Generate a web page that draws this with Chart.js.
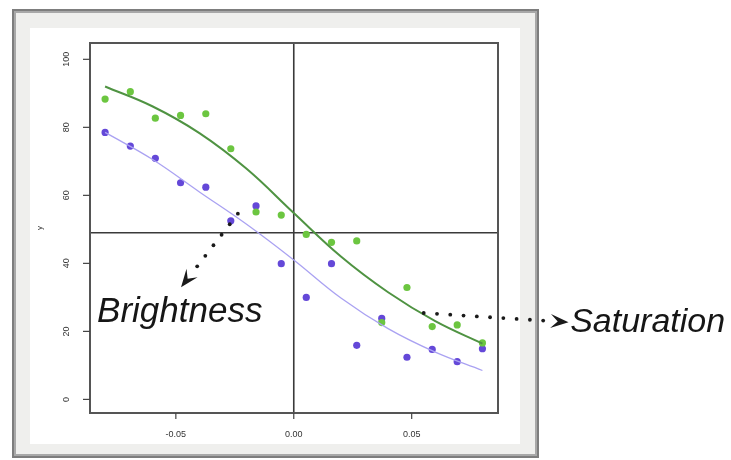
<!DOCTYPE html>
<html>
<head>
<meta charset="utf-8">
<script src="https://cdn.jsdelivr.net/npm/chart.js@4.4.0/dist/chart.umd.min.js"></script>
<style>
  html, body { margin: 0; padding: 0; background: #fff; }
  #wrap { width: 731px; height: 460px; }
</style>
</head>
<body>
<div id="wrap"><canvas id="myChart" width="731" height="460"></canvas></div>
<script>
// sample positions (x) and readings
let xs = [-0.08, -0.0693, -0.0587, -0.048, -0.0373, -0.0267, -0.016, -0.0053, 0.0053, 0.016, 0.0267, 0.0373, 0.048, 0.0587, 0.0693, 0.08]
let satPts = [88.3, 90.5, 82.7, 83.5, 84, 73.7, 55.1, 54.2, 48.5, 46.2, 46.6, 22.6, 32.9, 21.4, 21.9, 16.6]
let brightPts = [78.5, 74.5, 70.9, 63.7, 62.4, 52.5, 56.9, 39.9, 30.0, 39.9, 15.9, 23.8, 12.4, 14.7, 11.1, 14.9]

// fitted curves
let curveX = [-0.08, -0.06, -0.04, -0.02, 0, 0.02, 0.04, 0.06, 0.08]
let satCurve = [92, 86.2, 78.3, 67.8, 54.8, 42, 31.5, 23, 16.4]
let brightCurve = [78.5, 70.6, 61, 51.5, 41, 29.8, 20.8, 13.9, 8.5]

let xTicks = [-0.05, 0, 0.05]
let xTickLabels = ['-0.05', '0.00', '0.05']
let yTicks = [0, 20, 40, 60, 80, 100]
let hLine = 49
let vLine = 0

let toXY = (x, y) => x.map((v, i) => ({ x: v, y: y[i] }))

// frame behind the plot
let framePlugin = {
    id: 'frame',
    beforeDraw(chart) {
        let c = chart.ctx
        c.save()
        c.fillStyle = '#fff'
        c.fillRect(0, 0, chart.width, chart.height)
        c.fillStyle = '#7d7d7d'
        c.fillRect(12, 9, 527, 449)
        c.fillStyle = '#a8a8a8'
        c.fillRect(14, 11, 523, 445)
        c.fillStyle = '#efefed'
        c.fillRect(16, 13, 519, 441)
        c.fillStyle = '#fff'
        c.fillRect(30, 28, 490, 416)
        c.restore()
    },
    beforeDatasetsDraw(chart) {
        let c = chart.ctx
        let a = chart.chartArea
        let xs_ = chart.scales.x
        let ys_ = chart.scales.y
        c.save()
        c.strokeStyle = '#3a3a3a'
        c.lineWidth = 1.6
        let px = xs_.getPixelForValue(vLine)
        let py = ys_.getPixelForValue(hLine)
        c.beginPath()
        c.moveTo(px, a.top); c.lineTo(px, a.bottom)
        c.moveTo(a.left, py); c.lineTo(a.right, py)
        c.stroke()
        c.restore()
    },
    afterDraw(chart) {
        let c = chart.ctx
        let a = chart.chartArea
        let sx = chart.scales.x
        let sy = chart.scales.y
        c.save()
        // box
        c.strokeStyle = '#555'
        c.lineWidth = 2
        c.strokeRect(a.left, a.top, a.right - a.left, a.bottom - a.top)

        // ticks + labels
        c.lineWidth = 1.2
        c.strokeStyle = '#444'
        c.fillStyle = '#333'
        c.font = '9px "Liberation Sans", Arial, sans-serif'
        c.textAlign = 'center'
        c.textBaseline = 'middle'
        xTicks.forEach((t, i) => {
            let p = sx.getPixelForValue(t)
            c.beginPath(); c.moveTo(p, a.bottom); c.lineTo(p, a.bottom + 6); c.stroke()
            c.fillText(xTickLabels[i], p, a.bottom + 22)
        })
        yTicks.forEach(t => {
            let p = sy.getPixelForValue(t)
            c.beginPath(); c.moveTo(a.left, p); c.lineTo(a.left - 7, p); c.stroke()
            c.save()
            c.translate(a.left - 23, p)
            c.rotate(-Math.PI / 2)
            c.fillText(String(t), 0, 0)
            c.restore()
        })
        c.save()
        c.font = '8px "Liberation Sans", Arial, sans-serif'
        c.translate(40, (a.top + a.bottom) / 2)
        c.rotate(-Math.PI / 2)
        c.fillText('y', 0, 0)
        c.restore()

        // annotations
        let pt = (x, y) => [sx.getPixelForValue(x), sy.getPixelForValue(y)]
        drawDottedArrow(c, pt(-0.0237, 54.6), pt(-0.0478, 33.0))
        drawDottedArrow(c, pt(0.0551, 25.4), pt(0.1165, 22.7))

        c.fillStyle = '#161616'
        c.textAlign = 'left'
        c.textBaseline = 'alphabetic'
        c.font = 'italic 35px "Liberation Sans", Arial, sans-serif'
        let b = pt(-0.0834, 22.8)
        c.fillText('Brightness', b[0], b[1])
        c.font = 'italic 34px "Liberation Sans", Arial, sans-serif'
        let s = pt(0.1172, 19.9)
        c.fillText('Saturation', s[0], s[1])
        c.restore()
    }
}

function drawDottedArrow(c, from, to) {
    let dx = to[0] - from[0], dy = to[1] - from[1]
    let len = Math.sqrt(dx * dx + dy * dy)
    let ux = dx / len, uy = dy / len
    let head = 18
    c.fillStyle = '#1a1a1a'
    for (let d = 0; d <= len - head - 2; d += 13.3) {
        c.beginPath()
        c.arc(from[0] + ux * d, from[1] + uy * d, 1.9, 0, Math.PI * 2)
        c.fill()
    }
    let ang = Math.atan2(dy, dx)
    c.save()
    c.translate(to[0], to[1])
    c.rotate(ang)
    c.beginPath()
    c.moveTo(0, 0)
    c.lineTo(-head, -7)
    c.lineTo(-head * 0.6, 0)
    c.lineTo(-head, 7)
    c.closePath()
    c.fill()
    c.restore()
}

let ctx = document.getElementById('myChart').getContext('2d')

let data = {
    datasets: [
        {
            type: 'line',
            data: toXY(curveX, satCurve),
            borderColor: '#4f9342',
            borderWidth: 2,
            pointRadius: 0,
            tension: 0.4,
            fill: false
        },
        {
            type: 'line',
            data: toXY(curveX, brightCurve),
            borderColor: '#aaa2f2',
            borderWidth: 1.3,
            pointRadius: 0,
            tension: 0.4,
            fill: false
        },
        {
            type: 'scatter',
            data: toXY(xs, satPts),
            backgroundColor: '#6cc640',
            borderWidth: 0,
            pointRadius: 3.6
        },
        {
            type: 'scatter',
            data: toXY(xs, brightPts),
            backgroundColor: '#6448d8',
            borderWidth: 0,
            pointRadius: 3.6
        }
    ]
}

let options = {
    responsive: false,
    animation: false,
    layout: { padding: { left: 90, top: 43, right: 233, bottom: 47 } },
    plugins: { legend: { display: false }, tooltip: { enabled: false } },
    scales: {
        x: { type: 'linear', min: -0.0864, max: 0.0866, display: false },
        y: { type: 'linear', min: -4.0, max: 104.8, display: false }
    }
}

let myChart = new Chart(ctx, {
    type: 'scatter',
    data: data,
    options: options,
    plugins: [framePlugin]
})
</script>
</body>
</html>
